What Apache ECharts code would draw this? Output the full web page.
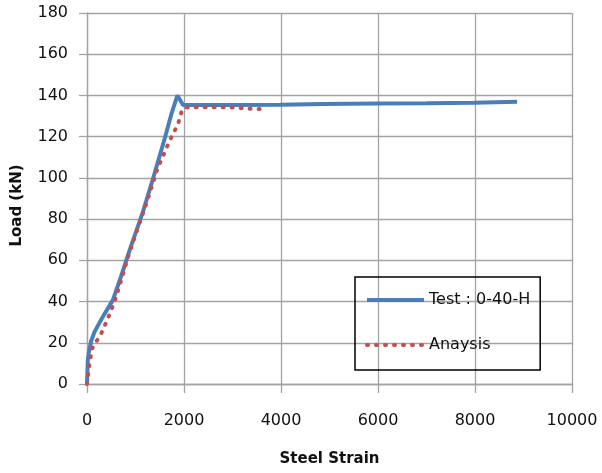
<!DOCTYPE html>
<html>
<head>
<meta charset="utf-8">
<script src="https://cdn.jsdelivr.net/npm/echarts@6/dist/echarts.min.js"></script>
<style>
html,body{margin:0;padding:0;background:#fff;}
#c{width:602px;height:473px;}
</style>
</head>
<body>
<div id="c"></div>
<script>
var xTicks = [0, 2000, 4000, 6000, 8000, 10000];
var yTicks = [0, 20, 40, 60, 80, 100, 120, 140, 160, 180];

var testName = 'Test : 0-40-H';
var testStrain = [0, 17, 40, 87, 155, 326, 533, 706, 878, 1153, 1360, 1601, 1740, 1864, 1980, 3000, 3978, 4872, 6000, 7000, 7971, 8868];
var testLoad   = [0, 11.6, 15.6, 21, 25.3, 32.6, 40.7, 52.5, 64.8, 83.5, 99.6, 119, 131, 140, 135.4, 135.4, 135.5, 135.9, 136.1, 136.2, 136.5, 136.9];

var anaName = 'Anaysis';
var anaStrain = [0, 52, 107, 190, 293, 430, 568, 706, 864, 1223, 1463, 1740, 1876, 1946, 2015, 2500, 3000, 3300, 3600];
var anaLoad   = [0, 10, 17.3, 20.5, 24.5, 31.8, 39.9, 50.5, 63, 87.5, 105.2, 119.8, 126, 131.9, 134.2, 134.3, 134.2, 133.6, 133.4];

function pairs(xs, ys) { return xs.map(function (x, i) { return [x, ys[i]]; }); }

var gridColor = '#a3a3a3';
var chart = echarts.init(document.getElementById('c'), null, {renderer: 'canvas'});
chart.setOption({
  animation: false,
  backgroundColor: '#ffffff',
  grid: {left: 87, right: 30, top: 13, bottom: 89, containLabel: false, outerBoundsMode: 'none'},
  legend: {
    orient: 'vertical',
    left: 355,
    top: 277,
    padding: [15, 10, 17, 10],
    itemWidth: 57,
    itemHeight: 14,
    itemGap: 29,
    borderColor: '#000',
    borderWidth: 1.5,
    backgroundColor: 'transparent',
    itemStyle: {opacity: 0},
    lineStyle: {width: 4},
    textStyle: {fontFamily: 'DejaVu Sans', fontSize: 16, color: '#111', padding: [0, 0, 0, 0]},
    data: [testName, anaName]
  },
  xAxis: {
    type: 'value',
    min: 0, max: 10000, interval: 2000,
    name: 'Steel Strain',
    nameLocation: 'middle',
    nameGap: 68,
    nameTextStyle: {fontFamily: 'DejaVu Sans', fontWeight: 'bold', fontSize: 15, color: '#111'},
    axisLine: {show: true, lineStyle: {color: gridColor, width: 1.3}},
    axisTick: {show: true, length: 9, lineStyle: {color: gridColor, width: 1.3}},
    axisLabel: {margin: 29, fontFamily: 'DejaVu Sans', fontSize: 16, color: '#111',
      formatter: function (v) { return xTicks.indexOf(v) >= 0 ? String(v) : ''; }},
    splitLine: {show: true, lineStyle: {color: gridColor, width: 1.3}}
  },
  yAxis: {
    type: 'value',
    min: 0, max: 180, interval: 20,
    name: 'Load (kN)',
    nameLocation: 'middle',
    nameGap: 62,
    nameRotate: 90,
    nameTextStyle: {fontFamily: 'DejaVu Sans', fontWeight: 'bold', fontSize: 15, color: '#111', padding: [0, 14, 0, 0]},
    axisLine: {show: true, lineStyle: {color: gridColor, width: 1.3}},
    axisTick: {show: true, length: 8, lineStyle: {color: gridColor, width: 1.3}},
    axisLabel: {margin: 19, fontFamily: 'DejaVu Sans', fontSize: 16, color: '#111',
      formatter: function (v) { return yTicks.indexOf(v) >= 0 ? String(v) : ''; }},
    splitLine: {show: true, lineStyle: {color: gridColor, width: 1.3}}
  },
  series: [
    {
      name: testName,
      type: 'line',
      data: pairs(testStrain, testLoad),
      symbol: 'none',
      smooth: false,
      lineStyle: {color: '#4a7ebb', width: 4},
      itemStyle: {color: '#4a7ebb'},
      z: 3
    },
    {
      name: anaName,
      type: 'line',
      data: pairs(anaStrain, anaLoad),
      symbol: 'none',
      smooth: false,
      lineStyle: {color: '#c0504d', width: 4, type: [1, 8], cap: 'round'},
      itemStyle: {color: '#c0504d'},
      z: 4
    }
  ]
});
</script>
</body>
</html>
